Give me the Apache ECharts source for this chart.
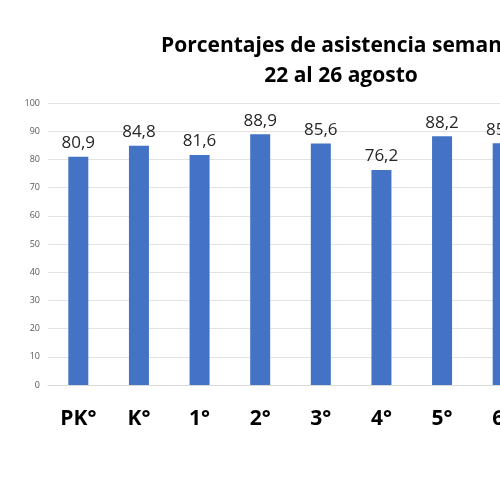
<!DOCTYPE html>
<html>
<head>
<meta charset="utf-8">
<script src="https://cdn.jsdelivr.net/npm/echarts@6/dist/echarts.min.js"></script>
<style>
  html, body { margin: 0; padding: 0; background: #fff; }
  #chart { width: 500px; height: 500px; }
</style>
</head>
<body>
<div id="chart"></div>
<script>
// cursos visibles en la imagen
var cursos = ['PK°', 'K°', '1°', '2°', '3°', '4°', '5°', '6°'];
// porcentaje de asistencia
var asistencia = [80.9, 84.8, 81.6, 88.9, 85.6, 76.2, 88.2, 85.7];
var yTicks = { min: 0, max: 100, interval: 10 };

var chart = echarts.init(document.getElementById('chart'));

chart.setOption({
    animation: false,
    backgroundColor: '#ffffff',
    title: {
        text: 'Porcentajes de asistencia semanal\n22 al 26 agosto',
        left: 341,
        top: 31,
        textAlign: 'center',
        padding: 0,
        textStyle: {
            fontFamily: 'Open Sans',
            fontWeight: 'bold',
            fontSize: 21,
            lineHeight: 30,
            color: '#000000'
        }
    },
    grid: {
        left: 48,
        top: 103,
        width: 485,
        height: 282,
        outerBoundsMode: 'none',
        containLabel: false
    },
    xAxis: {
        type: 'category',
        data: cursos,
        axisLine: { show: true, lineStyle: { color: '#d9d9d9' } },
        axisTick: { show: false },
        axisLabel: {
            margin: 24,
            fontFamily: 'Open Sans',
            fontWeight: 'bold',
            fontSize: 21,
            color: '#000000'
        }
    },
    yAxis: {
        type: 'value',
        min: yTicks.min,
        max: yTicks.max,
        interval: yTicks.interval,
        axisLine: { show: false },
        axisTick: { show: false },
        axisLabel: {
            margin: 8,
            fontFamily: 'Open Sans',
            fontSize: 9,
            color: '#595959'
        },
        splitLine: { lineStyle: { color: '#e3e3e3' } }
    },
    series: [
        {
            type: 'bar',
            data: asistencia,
            barWidth: 20,
            itemStyle: { color: '#4472c4' },
            label: {
                show: true,
                position: 'top',
                distance: 5,
                fontFamily: 'Open Sans',
                fontSize: 17,
                color: '#262626',
                formatter: function (p) {
                    return p.value.toFixed(1).replace('.', ',');
                }
            }
        }
    ]
});
</script>
</body>
</html>
